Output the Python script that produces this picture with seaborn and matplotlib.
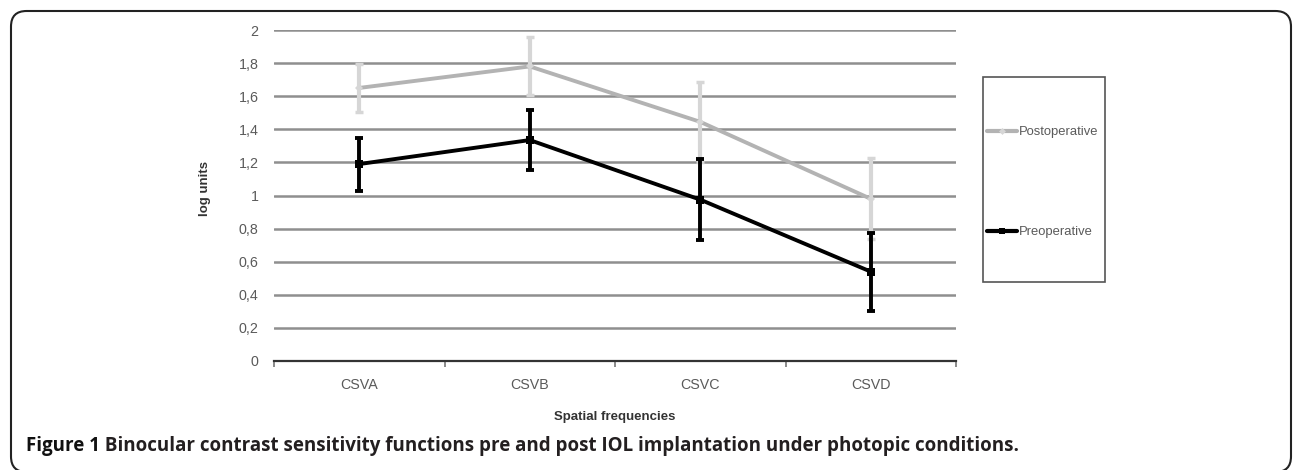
import numpy as np
import pandas as pd
import matplotlib
matplotlib.use("Agg")
import matplotlib.pyplot as plt
import seaborn as sns
from matplotlib.lines import Line2D
from matplotlib.patches import Rectangle, FancyBboxPatch

# ---- data ----
categories = ["CSVA", "CSVB", "CSVC", "CSVD"]
post_values = [1.65, 1.78, 1.445, 0.98]
post_err = [0.145, 0.175, 0.24, 0.245]
pre_values = [1.19, 1.335, 0.975, 0.54]
pre_err = [0.16, 0.18, 0.245, 0.235]
series_names = ["Postoperative", "Preoperative"]
y_ticks = [0, 0.2, 0.4, 0.6, 0.8, 1.0, 1.2, 1.4, 1.6, 1.8, 2.0]
y_tick_labels = ["0", "0,2", "0,4", "0,6", "0,8", "1", "1,2", "1,4", "1,6", "1,8", "2"]
caption_bold = "Figure 1"
caption_rest = " Binocular contrast sensitivity functions pre and post IOL implantation under photopic conditions."

df = pd.DataFrame({
    "freq": categories * 2,
    "value": post_values + pre_values,
    "group": [series_names[0]] * 4 + [series_names[1]] * 4,
})

sns.set_theme(style="white")
plt.rcParams["font.family"] = ["Liberation Sans", "DejaVu Sans"]

W, H = 1296, 470
fig = plt.figure(figsize=(W / 100, H / 100), dpi=100)
fig.patch.set_facecolor("white")

def fx(px):
    return px / W

def fy(py):
    return 1 - py / H

ax = fig.add_axes([fx(274), fy(361), fx(956) - fx(274), fy(30) - fy(361)])

post_line_c = "#b3b3b3"
post_err_c = "#d6d6d6"
pre_c = "#000000"
grid_c = "#8f8f8f"
text_c = "#5a5a5a"

# gridlines
ax.set_ylim(0, 2.0)
ax.set_yticks(y_ticks)
ax.set_yticklabels(y_tick_labels)
for yv in y_ticks[1:]:
    ax.axhline(yv, color=grid_c, lw=1.8, zorder=0)

xpos = np.arange(len(categories))

# error bars
ax.errorbar(xpos, post_values, yerr=post_err, fmt="none", ecolor=post_err_c,
            elinewidth=3, capsize=3, capthick=2.5, zorder=2)
ax.errorbar(xpos, pre_values, yerr=pre_err, fmt="none", ecolor=pre_c,
            elinewidth=2.8, capsize=3, capthick=2.8, zorder=4)

sns.lineplot(data=df, x="freq", y="value", hue="group", style="group",
             hue_order=series_names, style_order=series_names,
             palette={series_names[0]: post_line_c, series_names[1]: pre_c},
             markers={series_names[0]: "D", series_names[1]: "s"},
             dashes=False, lw=2.8, markersize=6, markeredgewidth=0,
             legend=False, ax=ax, sort=False)
for ln in ax.get_lines():
    if ln.get_marker() == "D":
        ln.set_zorder(3)
        ln.set_markersize(4)
        ln.set_markerfacecolor(post_err_c)
    elif ln.get_marker() == "s":
        ln.set_zorder(5)

ax.set_xlim(-0.5, len(categories) - 0.5)
ax.set_xticks(xpos)
ax.set_xticklabels(categories)
ax.set_xticks(np.arange(-0.5, len(categories), 1.0), minor=True)

for s in ["top", "right", "left"]:
    ax.spines[s].set_visible(False)
ax.spines["bottom"].set_color("#333333")
ax.spines["bottom"].set_linewidth(1.6)
ax.spines["bottom"].set_zorder(1)

ax.tick_params(axis="x", which="major", length=0, pad=12, labelsize=10.3, labelcolor=text_c)
ax.tick_params(axis="x", which="minor", length=4, width=1.2, color="#777777", bottom=True)
ax.tick_params(axis="y", which="major", length=0, pad=11, labelsize=10.3, labelcolor=text_c)
ax.tick_params(axis="y", which="minor", left=False)

ax.set_xlabel("")
ax.set_ylabel("")
fig.text(fx(615), fy(417), "Spatial frequencies", ha="center", va="center",
         fontsize=9.5, fontweight="bold", color="#333333")
fig.text(fx(205), fy(188), "log units", ha="center", va="center", rotation=90,
         fontsize=9.5, fontweight="bold", color="#333333")

# legend box
fig.add_artist(Rectangle((fx(983), fy(282)), fx(1105) - fx(983), fy(77) - fy(282),
                         transform=fig.transFigure, fill=False, ec="#555555", lw=1.2))
handles = [
    Line2D([], [], color=post_line_c, lw=3, marker="D", markersize=3.5,
           markerfacecolor=post_err_c, markeredgewidth=0),
    Line2D([], [], color=pre_c, lw=3, marker="s", markersize=5, markeredgewidth=0),
]
leg = fig.legend(handles, series_names, loc="upper left",
                 bbox_to_anchor=(fx(987), fy(126)), frameon=False,
                 fontsize=9.4, labelcolor=text_c, handlelength=2.3,
                 handletextpad=0.15, labelspacing=6.75, borderpad=0, borderaxespad=0)

# outer frame
fig.add_artist(FancyBboxPatch((fx(11), fy(472)), fx(1291) - fx(11), fy(11) - fy(472),
                              boxstyle="round,pad=0,rounding_size=0.012",
                              transform=fig.transFigure, fill=False,
                              ec="#222222", lw=1.5, mutation_aspect=W / H))

# caption
t1 = fig.text(fx(26), fy(446), caption_bold, ha="left", va="center",
              fontsize=13.5, fontweight="bold", color="#111111",
              family=["Open Sans", "DejaVu Sans"])
fig.canvas.draw()
bb = t1.get_window_extent()
fig.text(bb.x1 / W, fy(446), caption_rest, ha="left", va="center",
         fontsize=13.5, fontweight="bold", color="#231f20",
         family=["Open Sans", "DejaVu Sans"])

fig.savefig("out.png", dpi=100, facecolor="white")
